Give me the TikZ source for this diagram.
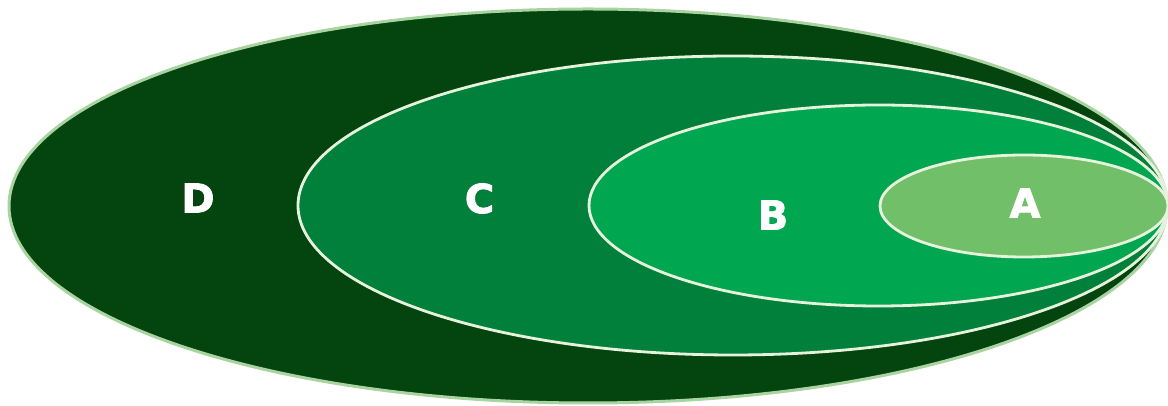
\documentclass[tikz,border=0pt]{standalone}
\usepackage{fontspec}
\newfontfamily\lblfont[FakeBold=2]{DejaVu Sans Bold}
\definecolor{cD}{HTML}{03440F}
\definecolor{cC}{HTML}{00803A}
\definecolor{cB}{HTML}{00A650}
\definecolor{cA}{HTML}{72BF6A}
\definecolor{edgeD}{HTML}{A9D3A0}
\definecolor{edgeIn}{HTML}{E6F2DC}
\begin{document}
\begin{tikzpicture}[x=1pt,y=1pt,
  lbl/.style={text=white,font=\lblfont\fontsize{40}{40}\selectfont,inner sep=0pt},
  inring/.style={draw=edgeIn,line width=2.8pt}]
\useasboundingbox (0,0) rectangle (1168,406);
\filldraw[fill=cD,draw=edgeD,line width=3pt] (588,200) ellipse [x radius=579,y radius=197];
\filldraw[fill=cC,inring] (733,200.5) ellipse [x radius=435,y radius=149.5];
\filldraw[fill=cB,inring] (878.5,200.5) ellipse [x radius=289.5,y radius=100.5];
\filldraw[fill=cA,inring] (1024,200) ellipse [x radius=144,y radius=51];
\node[lbl] (D) at (198,208) {D};
\node[lbl] (C) at (479.5,207.5) {C};
\node[lbl] (B) at (773,191) {B};
\node[lbl] (A) at (1025,203) {A};
\end{tikzpicture}
\end{document}
